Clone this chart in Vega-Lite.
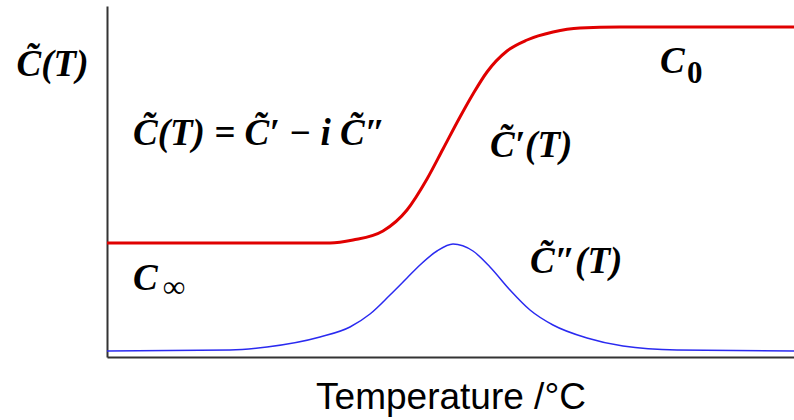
{
  "$schema": "https://vega.github.io/schema/vega-lite/v6.json",
  "autosize": "none",
  "width": 687,
  "height": 351,
  "padding": {"left": 107, "top": 6, "right": 0, "bottom": 63},
  "background": "white",
  "config": {"view": {"stroke": null}},
  "datasets": {
    "curves": [
      {"part": "real", "t": 0, "c": 114},
      {"part": "real", "t": 223, "c": 114},
      {"part": "real", "t": 246, "c": 117},
      {"part": "real", "t": 276, "c": 126},
      {"part": "real", "t": 300, "c": 147},
      {"part": "real", "t": 320, "c": 178},
      {"part": "real", "t": 336, "c": 208},
      {"part": "real", "t": 353, "c": 240},
      {"part": "real", "t": 366, "c": 263},
      {"part": "real", "t": 380, "c": 285},
      {"part": "real", "t": 400, "c": 306},
      {"part": "real", "t": 420, "c": 317},
      {"part": "real", "t": 446, "c": 325},
      {"part": "real", "t": 473, "c": 329},
      {"part": "real", "t": 513, "c": 330},
      {"part": "real", "t": 687, "c": 330},
      {"part": "imag", "t": 0, "c": 6},
      {"part": "imag", "t": 123, "c": 7},
      {"part": "imag", "t": 160, "c": 10},
      {"part": "imag", "t": 213, "c": 20},
      {"part": "imag", "t": 243, "c": 30},
      {"part": "imag", "t": 263, "c": 43},
      {"part": "imag", "t": 283, "c": 62},
      {"part": "imag", "t": 300, "c": 79},
      {"part": "imag", "t": 313, "c": 92},
      {"part": "imag", "t": 330, "c": 106},
      {"part": "imag", "t": 346, "c": 113},
      {"part": "imag", "t": 366, "c": 106},
      {"part": "imag", "t": 383, "c": 90},
      {"part": "imag", "t": 403, "c": 67},
      {"part": "imag", "t": 423, "c": 47},
      {"part": "imag", "t": 446, "c": 32},
      {"part": "imag", "t": 480, "c": 19},
      {"part": "imag", "t": 516, "c": 11},
      {"part": "imag", "t": 570, "c": 7},
      {"part": "imag", "t": 687, "c": 6}
    ],
    "labels": [
      {"t": 26, "c": 212, "label": "C̃(T) = C̃′ − i C̃″"},
      {"t": 383, "c": 200, "label": "C̃′(T)"},
      {"t": 423, "c": 84, "label": "C̃″(T)"},
      {"t": 553, "c": 284, "label": "C"},
      {"t": 26, "c": 67, "label": "C"}
    ],
    "subs": [
      {"t": 580, "c": 274, "label": "0"},
      {"t": 56, "c": 60, "label": "∞"}
    ]
  },
  "layer": [
    {
      "data": {"name": "curves"},
      "mark": {"type": "line", "interpolate": "monotone"},
      "encoding": {
        "x": {
          "field": "t", "type": "quantitative",
          "scale": {"domain": [0, 687], "nice": false, "zero": false},
          "axis": {
            "title": "Temperature  /°C",
            "titleFont": "Liberation Sans", "titleFontSize": 37, "titleFontWeight": "normal",
            "titleColor": "black", "titleBaseline": "alphabetic", "titleY": 51,
            "labels": false, "ticks": false, "grid": false,
            "domainColor": "#333333", "domainWidth": 2
          }
        },
        "y": {
          "field": "c", "type": "quantitative",
          "scale": {"domain": [0, 351], "nice": false, "zero": false},
          "axis": {
            "title": "C̃(T)",
            "titleFont": "Liberation Serif", "titleFontSize": 37, "titleFontWeight": "bold", "titleFontStyle": "italic",
            "titleColor": "black", "titleAngle": 0, "titleAlign": "center", "titleBaseline": "alphabetic",
            "titleX": -55, "titleY": 69,
            "labels": false, "ticks": false, "grid": false,
            "domainColor": "#333333", "domainWidth": 2
          }
        },
        "color": {
          "field": "part", "type": "nominal",
          "scale": {"domain": ["real", "imag"], "range": ["#e00000", "#2a2af0"]},
          "legend": null
        },
        "strokeWidth": {
          "field": "part", "type": "nominal",
          "scale": {"domain": ["real", "imag"], "range": [3, 1.5]},
          "legend": null
        }
      }
    },
    {
      "data": {"name": "labels"},
      "mark": {"type": "text", "align": "left", "baseline": "alphabetic", "font": "Liberation Serif", "fontSize": 37, "fontWeight": "bold", "fontStyle": "italic", "color": "black"},
      "encoding": {
        "x": {"field": "t", "type": "quantitative"},
        "y": {"field": "c", "type": "quantitative"},
        "text": {"field": "label"}
      }
    },
    {
      "data": {"name": "subs"},
      "mark": {"type": "text", "align": "left", "baseline": "alphabetic", "font": "Liberation Serif", "fontSize": 31, "fontWeight": "bold", "color": "black"},
      "encoding": {
        "x": {"field": "t", "type": "quantitative"},
        "y": {"field": "c", "type": "quantitative"},
        "text": {"field": "label"}
      }
    }
  ]
}
